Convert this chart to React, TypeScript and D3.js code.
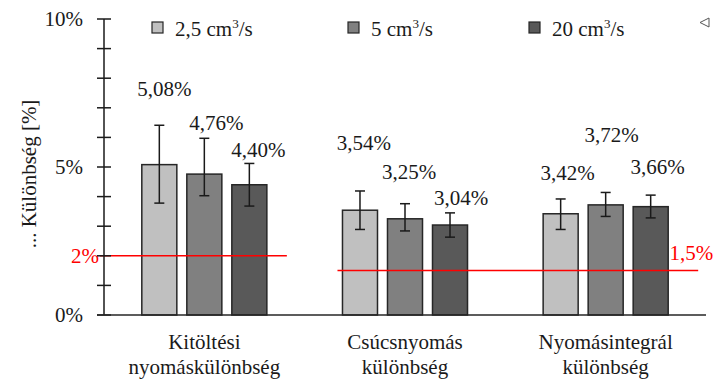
import React from 'react';
import { scaleBand, scaleLinear, range } from 'd3';

// kategóriák (két soros felirat)
const categories = ['Kitöltési\nnyomáskülönbség', 'Csúcsnyomás\nkülönbség', 'Nyomásintegrál\nkülönbség'];
const seriesNames = ['2,5', '5', '20'];

// átlagértékek [%]
const values25 = [5.08, 3.54, 3.42];
const values5 = [4.76, 3.25, 3.72];
const values20 = [4.4, 3.04, 3.66];

// hibasávok (felfelé / lefelé)
const errUp25 = [1.33, 0.65, 0.5];
const errUp5 = [1.21, 0.51, 0.42];
const errUp20 = [0.72, 0.41, 0.39];
const errDown25 = [1.3, 0.65, 0.53];
const errDown5 = [0.73, 0.41, 0.39];
const errDown20 = [0.72, 0.41, 0.38];

// határértékek
const limitValues = [2, 1.5];
const limitLabels = ['2%', '1,5%'];

const yTickLabels = ['0%', '5%', '10%'];

// kézzel elhelyezett címkék eltolása (px), sorozatonként
const labelDx = [[5, 4, 7], [12, 4, 6], [9, 11, 7]];
const labelDy = [[-29, -41, -19], [-8, -25, -50], [-6, -8, -21]];

const fills = ['#c0c0c0', '#808080', '#595959'];
const font = "'Liberation Serif', 'Times New Roman', Times, serif";

export default function App() {
  const width = 717,
    height = 379;
  const left = 104,
    right = 706,
    top = 19,
    bottom = 315;

  const series = [
    { name: seriesNames[0], values: values25, up: errUp25, down: errDown25 },
    { name: seriesNames[1], values: values5, up: errUp5, down: errDown5 },
    { name: seriesNames[2], values: values20, up: errUp20, down: errDown20 },
  ];

  const y = scaleLinear().domain([0, 10]).range([bottom, top]);
  const x0 = scaleBand<number>().domain(range(categories.length)).range([left, right]);
  const x1 = scaleBand<number>()
    .domain(range(series.length))
    .range([0, x0.bandwidth()])
    .paddingInner(0.222)
    .paddingOuter(0.84);
  const bw = x1.bandwidth();

  const fmt = (v: number) => v.toFixed(2).replace('.', ',') + '%';

  const barLeft = (g: number, s: number) => (x0(g) as number) + (x1(s) as number);

  // határvonalak vízszintes kiterjedése
  const limitX = [
    [left - 4, barLeft(0, 2) + bw + 20],
    [barLeft(1, 0) - 5, barLeft(2, 2) + bw + 30],
  ];

  const ts = { fontFamily: font, fontSize: '21px' };

  return (
    <svg
      width={width}
      height={height}
      style={{ position: 'absolute', left: 0, top: 0, background: '#fff', fontFamily: font }}
    >
      {/* bars */}
      {series.map((s, si) =>
        s.values.map((v, gi) => (
          <rect
            key={`b${si}-${gi}`}
            x={barLeft(gi, si)}
            y={y(v)}
            width={bw}
            height={y(0) - y(v)}
            fill={fills[si]}
            stroke="#262626"
            strokeWidth={1.5}
          />
        )),
      )}

      {/* red limit lines */}
      {limitValues.map((v, i) => (
        <line
          key={`l${i}`}
          x1={limitX[i][0]}
          x2={limitX[i][1]}
          y1={y(v)}
          y2={y(v)}
          stroke="#ff0000"
          strokeWidth={1.5}
        />
      ))}
      <text x={left - 5} y={y(limitValues[0])} dy="0.33em" textAnchor="end" fill="#ff0000" style={ts}>
        {limitLabels[0]}
      </text>
      <text x={limitX[1][1] + 15} y={y(limitValues[1]) - 11} textAnchor="end" fill="#ff0000" style={ts}>
        {limitLabels[1]}
      </text>

      {/* error bars */}
      {series.map((s, si) =>
        s.values.map((v, gi) => {
          const cx = barLeft(gi, si) + bw / 2;
          const yt = y(v + s.up[gi]);
          const yb = y(v - s.down[gi]);
          return (
            <g key={`e${si}-${gi}`} stroke="#1a1a1a" strokeWidth={1.5}>
              <line x1={cx} x2={cx} y1={yt} y2={yb} />
              <line x1={cx - 5} x2={cx + 5} y1={yt} y2={yt} />
              <line x1={cx - 5} x2={cx + 5} y1={yb} y2={yb} />
            </g>
          );
        }),
      )}

      {/* value labels */}
      {series.map((s, si) =>
        s.values.map((v, gi) => (
          <text
            key={`t${si}-${gi}`}
            x={barLeft(gi, si) + bw / 2 + labelDx[si][gi]}
            y={y(v + s.up[gi]) + labelDy[si][gi]}
            textAnchor="middle"
            style={ts}
            fill="#1a1a1a"
          >
            {fmt(v)}
          </text>
        )),
      )}

      {/* y axis */}
      <line x1={left} x2={left} y1={top} y2={bottom} stroke="#1a1a1a" strokeWidth={1.5} />
      {y.ticks(10).map((t) => (
        <line key={`k${t}`} x1={left - 7} x2={left + 7} y1={y(t)} y2={y(t)} stroke="#1a1a1a" strokeWidth={1.5} />
      ))}
      {[0, 5, 10].map((t, i) => (
        <text key={`yl${t}`} x={83} y={y(t)} dy="0.35em" textAnchor="end" style={ts} fill="#1a1a1a">
          {yTickLabels[i]}
        </text>
      ))}
      <line x1={left - 7} x2={right} y1={bottom} y2={bottom} stroke="#262626" strokeWidth={1.5} />

      {/* y axis title */}
      <text
        transform={`translate(36, ${(top + bottom) / 2 + 7}) rotate(-90)`}
        textAnchor="middle"
        style={ts}
        fill="#1a1a1a"
      >
        ... Különbség [%]
      </text>

      {/* category labels */}
      {categories.map((c, gi) => (
        <text
          key={`c${gi}`}
          x={(x0(gi) as number) + x0.bandwidth() / 2}
          y={349}
          textAnchor="middle"
          style={ts}
          fill="#1a1a1a"
        >
          {c.split('\n').map((line, li) => (
            <tspan key={li} x={(x0(gi) as number) + x0.bandwidth() / 2} dy={li === 0 ? 0 : 25}>
              {line}
            </tspan>
          ))}
        </text>
      ))}

      {/* legend */}
      {series.map((s, si) => {
        const lx = [152, 348, 529][si];
        return (
          <g key={`lg${si}`}>
            <rect x={lx} y={22} width={11} height={11} fill={fills[si]} stroke="#262626" strokeWidth={1.2} />
            <text x={lx + 23} y={36} style={ts} fill="#1a1a1a">
              {s.name} cm
              <tspan style={{ fontSize: '13px' }} dy={-8}>
                3
              </tspan>
              <tspan dy={8}>/s</tspan>
            </text>
          </g>
        );
      })}
      <path d="M709,18 L700,22.5 L709,27 Z" fill="none" stroke="#555" strokeWidth={1} />
    </svg>
  );
}
